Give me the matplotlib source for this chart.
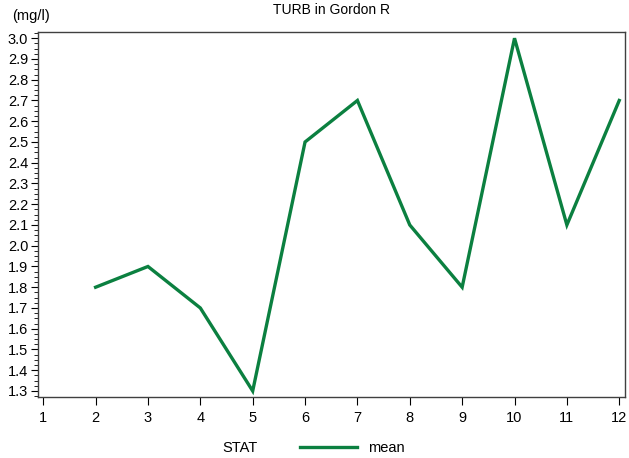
import matplotlib
matplotlib.use("Agg")
import matplotlib.pyplot as plt
from matplotlib.ticker import MultipleLocator, AutoMinorLocator
from matplotlib.lines import Line2D

plt.rcParams['font.family'] = ['Liberation Sans', 'DejaVu Sans']

# ── data ──
months = [2, 3, 4, 5, 6, 7, 8, 9, 10, 11, 12]
turb_mean = [1.8, 1.9, 1.7, 1.3, 2.5, 2.7, 2.1, 1.8, 3.0, 2.1, 2.7]
x_ticks = list(range(1, 13))
line_color = '#0b8040'

fig = plt.figure(figsize=(6.29, 4.58), dpi=100)
ax = fig.add_axes([38/629, 1 - 397/458, (625-38)/629, (397-32)/458])

ax.plot(months, turb_mean, color=line_color, lw=2.4, solid_joinstyle='miter')

ax.set_xlim(0.9, 12.11)
ax.set_ylim(1.271, 3.03)
ax.set_xticks(x_ticks)
ax.yaxis.set_major_locator(MultipleLocator(0.1))
ax.yaxis.set_minor_locator(AutoMinorLocator(4))
ax.yaxis.set_major_formatter(plt.FormatStrFormatter('%.1f'))

for s in ax.spines.values():
    s.set_color('#404040')
    s.set_linewidth(1.0)
ax.tick_params(axis='y', which='major', length=5, width=0.8, pad=2, labelsize=10.5)
ax.tick_params(axis='y', which='minor', length=3, width=0.6)
ax.tick_params(axis='x', which='major', length=6, width=0.8, pad=4, labelsize=10.5)

ax.set_title('TURB in Gordon R', fontsize=10, pad=13)
fig.text(12/629, 1 - 16/458, '(mg/l)', fontsize=10.5, va='center', ha='left')

# legend at bottom
fig.text(240/629, 1 - 448/458, 'STAT', fontsize=10.5, va='center', ha='center')
fig.add_artist(Line2D([300/629, 357/629], [1 - 447/458, 1 - 447/458],
                      color=line_color, lw=2.4, transform=fig.transFigure))
fig.text(368/629, 1 - 448/458, 'mean', fontsize=10.5, va='center', ha='left')

fig.savefig('out.png', dpi=100)
